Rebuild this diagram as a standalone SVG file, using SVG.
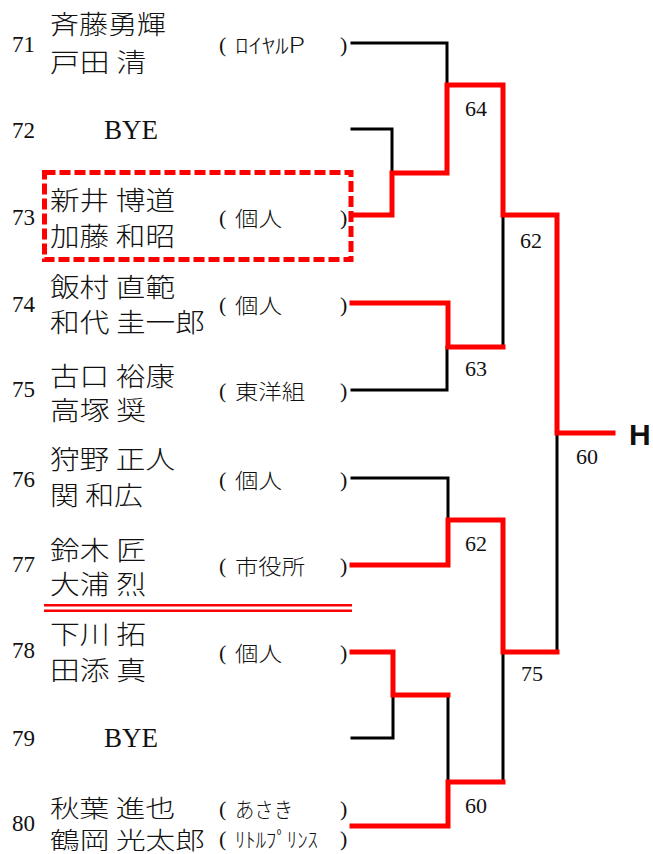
<svg xmlns="http://www.w3.org/2000/svg" width="653" height="854" viewBox="0 0 653 854">
<style>
text { dominant-baseline: central; fill: #111; }
.num { font-family: "Liberation Serif", serif; font-size: 23px; }
.bye { font-family: "Liberation Serif", serif; font-size: 27px; }
.nm { font-family: "Noto Sans CJK JP", sans-serif; font-size: 26px; font-weight: 300; }
.nm2 { font-size: 24px; }
.org { font-family: "Noto Sans CJK JP", sans-serif; font-size: 21px; font-weight: 300; }
.par { font-family: "Liberation Serif", serif; font-size: 22px; }
.lbl { font-family: "Liberation Serif", serif; font-size: 22px; text-anchor: middle; }
.h { font-family: "Liberation Sans", Arial, sans-serif; font-size: 30px; font-weight: bold; }
.blk { stroke: #000; stroke-width: 3; fill: none; stroke-linecap: square; stroke-linejoin: miter; }
.red { stroke: #ff0000; stroke-width: 5; fill: none; stroke-linecap: square; stroke-linejoin: miter; }
</style>
<rect width="653" height="854" fill="#fff"/>

<g id="connectors">
  <path class="blk" d="M352,43 H447 V85"/>
  <path class="blk" d="M352,129 H392 V173"/>
  <path class="blk" d="M503,215 V347"/>
  <path class="blk" d="M352,390 H447 V347"/>
  <path class="blk" d="M557,433 V652"/>
  <path class="blk" d="M352,478 H448 V520"/>
  <path class="blk" d="M352,738 H393 V695"/>
  <path class="blk" d="M448,695 V782"/>
  <path class="blk" d="M503,652 V782"/>
  <path class="red" d="M352,215 H392 V173 H447 V85 H503 V215 H557 V433 H613"/>
  <path class="red" d="M352,303 H448 V347 H503"/>
  <path class="red" d="M352,565 H448 V520 H503 V652 H557"/>
  <path class="red" d="M352,652 H393 V695 H448"/>
  <path class="red" d="M352,826 H448 V782 H503"/>
</g>

<g id="labels">
  <text class="lbl" x="476" y="108">64</text>
  <text class="lbl" x="531" y="240">62</text>
  <text class="lbl" x="476" y="368">63</text>
  <text class="lbl" x="587" y="456">60</text>
  <text class="lbl" x="476" y="543">62</text>
  <text class="lbl" x="532" y="673">75</text>
  <text class="lbl" x="476" y="805">60</text>
  <text class="h" x="629" y="434">H</text>
</g>

<g id="highlight-73">
  <rect x="44.5" y="172.5" width="306.5" height="87" fill="none" stroke="#ff0000" stroke-width="5" stroke-dasharray="11 4"/>
</g>

<g id="divider">
  <line x1="44" y1="605.3" x2="352" y2="605.3" stroke="#ff0000" stroke-width="2.5"/>
  <line x1="44" y1="610.7" x2="352" y2="610.7" stroke="#ff0000" stroke-width="2.5"/>
</g>

<g id="entry-71">
  <text class="num" x="12" y="44">71</text>
  <text class="nm" x="50" y="22.5" textLength="116" lengthAdjust="spacingAndGlyphs">斉藤勇輝</text>
  <text class="nm" x="50" y="60" textLength="96" lengthAdjust="spacingAndGlyphs">戸田 清</text>
  <text class="par" x="219" y="44">(</text>
  <text class="org" x="235" y="44" textLength="70" lengthAdjust="spacingAndGlyphs">ﾛｲﾔﾙP</text>
  <text class="par" x="340" y="44">)</text>
</g>

<g id="entry-72">
  <text class="num" x="12" y="130">72</text>
  <text class="bye" x="104" y="130">BYE</text>
</g>

<g id="entry-73">
  <text class="num" x="12" y="217">73</text>
  <text class="nm" x="50" y="198.5" textLength="125" lengthAdjust="spacingAndGlyphs">新井 博道</text>
  <text class="nm" x="50" y="234" textLength="125" lengthAdjust="spacingAndGlyphs">加藤 和昭</text>
  <text class="par" x="219" y="217">(</text>
  <text class="org" x="235" y="217" textLength="47" lengthAdjust="spacingAndGlyphs">個人</text>
  <text class="par" x="340" y="217">)</text>
</g>

<g id="entry-74">
  <text class="num" x="12" y="304">74</text>
  <text class="nm" x="50" y="285" textLength="125" lengthAdjust="spacingAndGlyphs">飯村 直範</text>
  <text class="nm" x="50" y="320.5" textLength="155" lengthAdjust="spacingAndGlyphs">和代 圭一郎</text>
  <text class="par" x="219" y="304">(</text>
  <text class="org" x="235" y="304" textLength="47" lengthAdjust="spacingAndGlyphs">個人</text>
  <text class="par" x="340" y="304">)</text>
</g>

<g id="entry-75">
  <text class="num" x="12" y="389">75</text>
  <text class="nm" x="50" y="374" textLength="125" lengthAdjust="spacingAndGlyphs">古口 裕康</text>
  <text class="nm" x="50" y="408.5" textLength="96" lengthAdjust="spacingAndGlyphs">高塚 奨</text>
  <text class="par" x="219" y="390">(</text>
  <text class="org" x="235" y="390" textLength="70" lengthAdjust="spacingAndGlyphs">東洋組</text>
  <text class="par" x="340" y="390">)</text>
</g>

<g id="entry-76">
  <text class="num" x="12" y="479">76</text>
  <text class="nm" x="50" y="457" textLength="125" lengthAdjust="spacingAndGlyphs">狩野 正人</text>
  <text class="nm" x="50" y="493" textLength="93" lengthAdjust="spacingAndGlyphs">関 和広</text>
  <text class="par" x="219" y="479">(</text>
  <text class="org" x="235" y="479" textLength="47" lengthAdjust="spacingAndGlyphs">個人</text>
  <text class="par" x="340" y="479">)</text>
</g>

<g id="entry-77">
  <text class="num" x="12" y="564">77</text>
  <text class="nm" x="50" y="548" textLength="96" lengthAdjust="spacingAndGlyphs">鈴木 匠</text>
  <text class="nm" x="50" y="582" textLength="96" lengthAdjust="spacingAndGlyphs">大浦 烈</text>
  <text class="par" x="219" y="565">(</text>
  <text class="org" x="235" y="565" textLength="70" lengthAdjust="spacingAndGlyphs">市役所</text>
  <text class="par" x="340" y="565">)</text>
</g>

<g id="entry-78">
  <text class="num" x="12" y="650">78</text>
  <text class="nm" x="50" y="632" textLength="96" lengthAdjust="spacingAndGlyphs">下川 拓</text>
  <text class="nm" x="50" y="668" textLength="96" lengthAdjust="spacingAndGlyphs">田添 真</text>
  <text class="par" x="219" y="652">(</text>
  <text class="org" x="235" y="652" textLength="47" lengthAdjust="spacingAndGlyphs">個人</text>
  <text class="par" x="340" y="652">)</text>
</g>

<g id="entry-79">
  <text class="num" x="12" y="738">79</text>
  <text class="bye" x="104" y="738">BYE</text>
</g>

<g id="entry-80">
  <text class="num" x="12" y="823">80</text>
  <text class="nm nm2" x="50" y="806" textLength="125" lengthAdjust="spacingAndGlyphs">秋葉 進也</text>
  <text class="nm nm2" x="50" y="838" textLength="155" lengthAdjust="spacingAndGlyphs">鶴岡 光太郎</text>
  <text class="par" x="219" y="808">(</text>
  <text class="org" x="235" y="808" textLength="58" lengthAdjust="spacingAndGlyphs">あさき</text>
  <text class="par" x="340" y="808">)</text>
  <text class="par" x="219" y="838">(</text>
  <text class="org" x="235" y="838" textLength="83" lengthAdjust="spacingAndGlyphs">ﾘﾄﾙﾌﾟﾘﾝｽ</text>
  <text class="par" x="340" y="838">)</text>
</g>
</svg>
